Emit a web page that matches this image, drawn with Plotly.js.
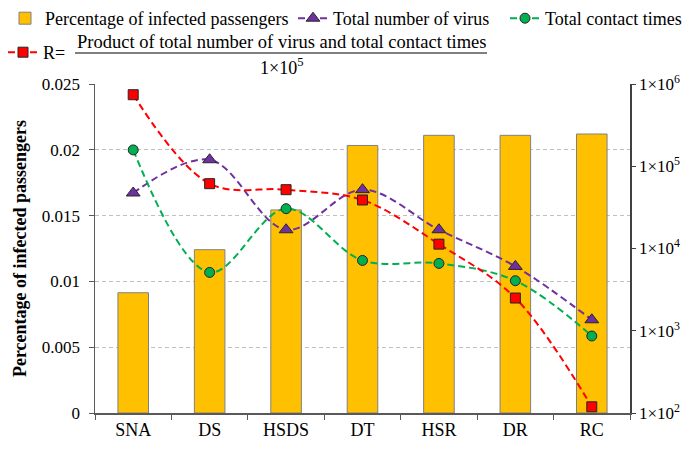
<!DOCTYPE html>
<html>
<head>
<meta charset="utf-8">
<script src="https://cdn.plot.ly/plotly-3.0.1.min.js"></script>
<style>html,body{margin:0;padding:0;background:#fff;}#chart{width:700px;height:449px;}</style>
</head>
<body>
<div id="chart"></div>
<script>
// ---- data ----
const categories = ['SNA', 'DS', 'HSDS', 'DT', 'HSR', 'DR', 'RC'];
const infectedPct = [0.00914, 0.01241, 0.01543, 0.02033, 0.0211, 0.0211, 0.0212];
const virusTotal = [47300, 120000, 16900, 51900, 16900, 6060, 1360];
const contactTimes = [158000, 5120, 30500, 7160, 6590, 4060, 863];
const rValues = [741000, 61400, 51900, 38900, 11300, 2500, 119];
const leftTicks = [0, 0.005, 0.01, 0.015, 0.02, 0.025];
const leftTickText = ['0', '0.005', '0.01', '0.015', '0.02', '0.025'];
const rightTicks = [100, 1000, 10000, 100000, 1000000];
const rightTickText = ['1×10<sup>2</sup>', '1×10<sup>3</sup>', '1×10<sup>4</sup>', '1×10<sup>5</sup>', '1×10<sup>6</sup>'];

const FONT = 'Liberation Serif';
const mline = {color: '#262626', width: 1};
const dash = '7px,4px';

const traces = [
  {type: 'bar', x: categories, y: infectedPct, name: 'Percentage of infected passengers',
   marker: {color: '#FFC000', line: {color: '#808080', width: 1}}, width: 0.4, yaxis: 'y', legend: 'legend5'},
  {type: 'scatter', mode: 'lines+markers', x: categories, y: virusTotal, name: 'Total number of virus',
   yaxis: 'y2', legend: 'legend3', line: {color: '#7030A0', width: 2, dash: dash, shape: 'spline', smoothing: 1},
   marker: {symbol: 'triangle-up', size: 12, color: '#7030A0', line: mline}},
  {type: 'scatter', mode: 'lines+markers', x: categories, y: contactTimes, name: 'Total contact times',
   yaxis: 'y2', legend: 'legend4', line: {color: '#00B050', width: 2, dash: dash, shape: 'spline', smoothing: 1},
   marker: {symbol: 'circle', size: 10, color: '#00B050', line: mline}},
  {type: 'scatter', mode: 'lines+markers', x: categories, y: rValues, name: 'R=',
   yaxis: 'y2', legend: 'legend2', line: {color: '#FF0000', width: 2, dash: dash, shape: 'spline', smoothing: 1},
   marker: {symbol: 'square', size: 10, color: '#FF0000', line: mline}}
];

const L = 95, R = 70, T = 84, B = 36, W = 700, H = 449;
const pw = W - L - R, ph = H - T - B;
const px = v => (v - L) / pw;
const py = v => (H - B - v) / ph;

function leg(xpx, ytop) {
  return {orientation: 'h', xref: 'container', yref: 'container', x: xpx / W, y: 1 - ytop / H,
    xanchor: 'left', yanchor: 'top', font: {family: FONT, size: 18, color: '#000'}, bgcolor: 'rgba(0,0,0,0)'};
}

const layout = {
  width: W, height: H,
  margin: {l: L, r: R, t: T, b: B},
  paper_bgcolor: '#fff', plot_bgcolor: '#fff',
  font: {family: FONT, size: 17, color: '#000'},
  showlegend: true,
  xaxis: {type: 'category', range: [-0.5, 6.5], showline: true, linecolor: '#595959', linewidth: 1.5,
    ticks: 'outside', tickson: 'boundaries', ticklen: 5, tickcolor: '#595959', showgrid: false,
    tickfont: {family: FONT, size: 18, color: '#000'}, fixedrange: true},
  yaxis: {range: [0, 0.025], tickvals: leftTicks, ticktext: leftTickText,
    showline: true, linecolor: '#595959', linewidth: 1.5, ticks: 'outside', ticklen: 5, tickcolor: '#595959',
    ticklabelstandoff: 5,
    showgrid: true, gridcolor: '#c0c0c0', griddash: '4px,3px', gridwidth: 1, zeroline: false,
    tickfont: {family: FONT, size: 17, color: '#000'},
    title: {text: '<b>Percentage of infected passengers</b>', font: {family: FONT, size: 18, color: '#000'}, standoff: 10}},
  yaxis2: {type: 'log', range: [2, 6], overlaying: 'y', side: 'right', tickvals: rightTicks, ticktext: rightTickText,
    showline: true, linecolor: '#404040', linewidth: 1.5, ticks: 'outside', ticklen: 4, tickcolor: '#404040',
    showgrid: false, zeroline: false, tickfont: {family: FONT, size: 17, color: '#000'}},
  legend5: leg(5, 0),
  legend3: leg(293, 0),
  legend4: leg(505, 0),
  legend2: leg(3, 34),
  annotations: [
    {xref: 'paper', yref: 'paper', x: px(281), y: py(42), text: 'Product of total number of virus and total contact times',
     showarrow: false, xanchor: 'center', yanchor: 'middle', font: {family: FONT, size: 18.5, color: '#000'}},
    {xref: 'paper', yref: 'paper', x: px(281), y: py(66), text: '1×10<sup>5</sup>',
     showarrow: false, xanchor: 'center', yanchor: 'middle', font: {family: FONT, size: 18, color: '#000'}}
  ],
  shapes: [
    {type: 'line', xref: 'paper', yref: 'paper', x0: px(75), x1: px(487), y0: py(53), y1: py(53),
     line: {color: '#000', width: 1}}
  ]
};

Plotly.newPlot('chart', traces, layout, {displayModeBar: false, staticPlot: true});
</script>
</body>
</html>
